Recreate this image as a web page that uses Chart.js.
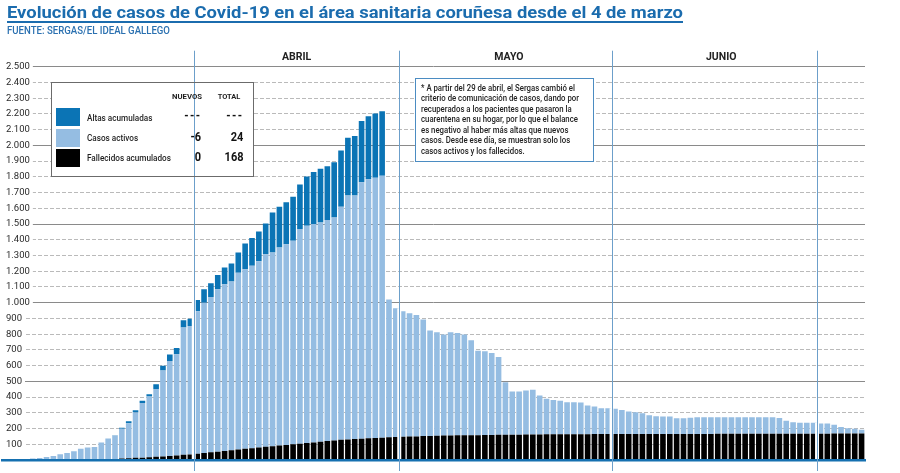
<!DOCTYPE html>
<html lang="es">
<head>
<meta charset="utf-8">
<title>Evolución de casos de Covid-19 en el área sanitaria coruñesa</title>
<script src="https://cdn.jsdelivr.net/npm/chart.js@4.4.1/dist/chart.umd.min.js"></script>
<style>
  html, body { margin: 0; padding: 0; background: #fff; }
  #wrap { position: relative; width: 900px; height: 473px; overflow: hidden; font-family: Roboto, 'Noto Sans', sans-serif; }
  #chart { position: absolute; left: 0; top: 0; }
  .txt { position: absolute; white-space: nowrap; display: inline-block; transform-origin: left center; }
  #title { left: 7px; top: 4px; font-size: 17.3px; line-height: 17px; font-weight: 700; color: #1b6cae;
           text-decoration: underline; text-decoration-thickness: 1.5px; text-underline-offset: 3px; }
  #source { left: 7px; top: 26px; font-size: 10px; line-height: 10px; font-weight: 500; color: #2a70b0; }
  #legend { position: absolute; left: 51px; top: 82px; width: 203px; height: 95px; box-sizing: border-box;
            border: 1.5px solid #6b6b6b; }
  #legend .sw { position: absolute; left: 3.5px; width: 24px; height: 18px; }
  #legend .lab { left: 34.8px; height: 14px; line-height: 14px; font-size: 9.5px; font-weight: 500; color: #1e1e1e; }
  #legend .head { height: 12px; line-height: 12px; font-size: 8px; font-weight: 700; color: #1e1e1e; transform-origin: right center; }
  #legend .val { height: 16px; line-height: 16px; font-size: 12.5px; font-weight: 700; color: #111; transform-origin: right center; }
  #legend .dash { letter-spacing: 1.6px; }
  #note { position: absolute; left: 415px; top: 78px; width: 179px; height: 84px; box-sizing: border-box;
          border: 1.6px solid #4b8cc2; }
  #noteText { position: absolute; left: 4.5px; top: 3.5px; font-size: 8.6px; line-height: 10.6px; font-weight: 500;
              color: #222; white-space: nowrap; display: inline-block; transform-origin: left top; }
</style>
</head>
<body>
<div id="wrap">
  <canvas id="chart" width="900" height="473"></canvas>
  <div id="title" class="txt">Evolución de casos de Covid-19 en el área sanitaria coruñesa desde el 4 de marzo</div>
  <div id="source" class="txt">FUENTE: SERGAS/EL IDEAL GALLEGO</div>
  <div id="legend"></div>
  <div id="note"><div id="noteText"></div></div>
</div>
<script>
(function() {
  'use strict';

  // ── Datos ──
  var monthNames = ['mar', 'abr', 'may', 'jun', 'jul'];
  var monthFirst = [4, 1, 1, 1, 1];
  var monthLast = [31, 30, 31, 30, 7];
  var monthHeads = ['', 'ABRIL', 'MAYO', 'JUNIO', ''];
  var monthHeadDay = [0, 16, 17, 17, 0];

  var fallecidos = [
    0,0,0,0,0,0,0,0,0,0,1,1,2,3,4,5,7,9,11,14,15,17,20,23,26,29,33,35,
    40,44,49,53,57,62,66,71,75,80,84,88,92,96,100,103,108,112,116,120,124,128,131,133,135,138,140,142,144,146,
    148,149,150,152,153,154,155,156,157,157,158,158,159,159,160,160,161,161,162,162,162,163,163,163,164,164,164,164,165,165,165,
    165,165,165,165,166,166,166,166,166,166,166,166,166,166,166,167,167,167,167,167,167,167,167,167,167,167,167,167,167,167,
    167,167,168,168,168,168,168
  ];
  var activos = [
    1,2,4,6,9,13,19,26,36,45,54,71,77,80,107,131,149,190,222,288,348,386,432,546,604,643,809,816,
    906,956,987,1032,1060,1072,1125,1141,1159,1183,1224,1231,1259,1276,1293,1365,1381,1388,1394,1406,1418,1482,1550,1548,1631,1647,1654,1665,877,818,
    798,784,771,741,670,658,642,656,651,640,603,537,532,521,495,335,275,275,280,284,248,226,219,213,203,203,201,182,175,164,164,
    160,153,143,139,131,118,112,110,110,99,99,102,106,106,106,105,105,105,105,105,105,105,105,105,100,83,73,69,69,69,
    65,65,56,42,34,30,24
  ];
  // desde el 29 de abril ya no se publican las altas
  var altas = [
    0,0,0,0,0,0,0,0,0,0,0,0,0,0,0,0,2,6,14,14,14,15,30,30,40,40,47,47,
    71,85,87,91,106,115,128,164,177,190,196,255,259,266,281,283,313,330,341,342,351,358,368,378,389,400,408,410
  ];

  var seriesNames = ['Altas acumuladas', 'Casos activos', 'Fallecidos acumulados'];
  var seriesColors = ['#0b74b5', '#95bde2', '#000000'];
  var legendNew = ['---', '-6', '0'];
  var legendTotal = ['---', '24', '168'];
  var yMax = 2500, yStep = 100, yMajor = 500;

  var noteLines = [
    '* A partir del 29 de abril, el Sergas cambió el',
    'criterio de comunicación de casos, dando por',
    'recuperados a los pacientes que pasaron la',
    'cuarentena en su hogar, por lo que el balance',
    'es negativo al haber más altas que nuevos',
    'casos. Desde ese día, se muestran solo los',
    'casos activos y los fallecidos.'
  ];

  // ── Categorías (un día por barra) ──
  var days = [], monthStart = [], headAt = {};
  monthNames.forEach(function(m, k) {
    monthStart.push(days.length);
    for (var d = monthFirst[k]; d <= monthLast[k]; d++) {
      if (d === monthHeadDay[k]) headAt[days.length] = monthHeads[k];
      days.push(d + ' ' + m);
    }
  });

  function $(id) { return document.getElementById(id); }
  function fmt(v) { return String(v).replace(/\B(?=(\d{3})+(?!\d))/g, '.'); }
  function fit(el, w) {
    el.style.transform = 'none';
    var cur = el.getBoundingClientRect().width;
    if (cur > 0) el.style.transform = 'scaleX(' + (w / cur) + ')';
  }

  // ── Cajas de texto ──
  fit($('title'), 676);
  fit($('source'), 163);

  var legend = $('legend');
  var swTop = [24.5, 45.5, 66];
  var rowMid = [34.5, 54.8, 74.8];
  var valMid = [32.5, 54.2, 73.8];
  var html = '<div class="txt head" style="right:50.8px;top:8.2px">NUEVOS</div>' +
             '<div class="txt head" style="right:12.5px;top:8.2px">TOTAL</div>';
  function valCls(t) { return 'txt val' + (t === '---' ? ' dash' : ''); }
  seriesNames.forEach(function(name, i) {
    html += '<div class="sw" style="top:' + swTop[i] + 'px;background:' + seriesColors[i] + '"></div>' +
            '<div class="txt lab" style="top:' + (rowMid[i] - 7) + 'px">' + name + '</div>' +
            '<div class="' + valCls(legendNew[i]) + '" style="right:51.5px;top:' + (valMid[i] - 8) + 'px">' + legendNew[i] + '</div>' +
            '<div class="' + valCls(legendTotal[i]) + '" style="right:9.8px;top:' + (valMid[i] - 8) + 'px">' + legendTotal[i] + '</div>';
  });
  legend.innerHTML = html;
  var heads = legend.querySelectorAll('.head');
  fit(heads[0], 30); fit(heads[1], 22.7);
  legend.querySelectorAll('.lab').forEach(function(el) { el.style.transform = 'scaleX(0.86)'; });
  legend.querySelectorAll('.val').forEach(function(el) { el.style.transform = 'scaleX(0.88)'; });

  $('noteText').innerHTML = noteLines.join('<br>');
  fit($('noteText'), 158);

  // ── Plugins ──
  var boxBack = {
    id: 'boxBack',
    beforeDatasetsDraw: function(chart) {
      var ctx = chart.ctx, base = chart.canvas.getBoundingClientRect();
      ctx.save();
      ctx.fillStyle = '#fff';
      ['legend', 'note'].forEach(function(id) {
        var r = $(id).getBoundingClientRect();
        ctx.fillRect(r.left - base.left, r.top - base.top, r.width, r.height);
      });
      ctx.restore();
    }
  };

  function boundaryPx(chart, b) {
    var x = chart.scales.x;
    return (x.getPixelForValue(b - 1) + x.getPixelForValue(b)) / 2;
  }

  var monthLines = {
    id: 'monthLines',
    afterDatasetsDraw: function(chart) {
      var ctx = chart.ctx, area = chart.chartArea;
      ctx.save();
      ctx.fillStyle = '#fff';
      monthStart.slice(1).forEach(function(b) {
        var px = boundaryPx(chart, b), top = area.bottom;
        chart.data.datasets.forEach(function(ds, k) {
          var meta = chart.getDatasetMeta(k);
          [b - 1, b].forEach(function(i) {
            if (meta.data[i] && ds.data[i] != null) top = Math.min(top, meta.data[i].y);
          });
        });
        ctx.fillRect(px - 2, top, 4, area.bottom - top);
      });
      ctx.restore();
    },
    afterDraw: function(chart) {
      var ctx = chart.ctx;
      var top = chart.scales.x2.top + 2, bottom = chart.scales.x.bottom - 1;
      ctx.save();
      ctx.strokeStyle = '#6c9fca';
      ctx.lineWidth = 1;
      monthStart.slice(1).forEach(function(b) {
        var px = Math.round(boundaryPx(chart, b)) + 0.5;
        ctx.beginPath();
        ctx.moveTo(px, top);
        ctx.lineTo(px, bottom);
        ctx.stroke();
      });
      ctx.restore();
    }
  };

  // ── Gráfico ──
  new Chart($('chart'), {
    type: 'bar',
    data: {
      labels: days,
      datasets: [
        { label: seriesNames[2], data: fallecidos, backgroundColor: seriesColors[2] },
        { label: seriesNames[1], data: activos, backgroundColor: seriesColors[1] },
        { label: seriesNames[0], data: altas, backgroundColor: seriesColors[0] }
      ]
    },
    options: {
      responsive: false,
      animation: false,
      layout: { padding: { top: 48.7, bottom: 1, left: 2, right: 35 } },
      datasets: { bar: { barPercentage: 0.82, categoryPercentage: 1, borderWidth: 0 } },
      plugins: { legend: { display: false }, tooltip: { enabled: false } },
      scales: {
        x: {
          stacked: true,
          grid: { display: false, drawTicks: true, tickLength: 12 },
          ticks: { display: false },
          border: { display: true, color: '#1570b0', width: 2.5, z: 1 },
          afterFit: function(s) { s.height = 12; }
        },
        x2: {
          type: 'category',
          position: 'top',
          grid: { display: false, drawTicks: false },
          border: { display: false },
          ticks: {
            autoSkip: false, maxRotation: 0, minRotation: 0, padding: 3, labelOffset: -3.4,
            color: '#222', font: { family: 'Roboto', size: 10.5, weight: 'bold' },
            callback: function(v, i) { return headAt[i] || ''; }
          },
          afterFit: function(s) { s.height = 18; }
        },
        y: {
          stacked: true,
          min: 0, max: yMax,
          position: 'left',
          grid: {
            drawTicks: false, lineWidth: 1,
            color: function(c) { return (c.tick.value % yMajor === 0) ? 'rgba(0,0,0,0)' : '#bababa'; }
          },
          border: { display: false, dash: [4, 2] },
          ticks: {
            stepSize: yStep, mirror: true, padding: 4, color: '#2a2a2a',
            font: { family: 'Roboto', size: 9.5 },
            callback: function(v) { return v === 0 ? '' : fmt(v); },
            showLabelBackdrop: true, backdropColor: '#fff',
            backdropPadding: { top: 0, bottom: 0, left: 4, right: 3 }
          },
          afterFit: function(s) { s.width = 0; }
        },
        y2: {
          min: 0, max: yMax,
          position: 'left',
          grid: {
            drawTicks: false, lineWidth: 1,
            color: function(c) { return c.tick.value === 0 ? 'rgba(0,0,0,0)' : '#8a8a8a'; }
          },
          border: { display: false },
          ticks: { display: false, stepSize: yMajor },
          afterFit: function(s) { s.width = 0; }
        }
      }
    },
    plugins: [boxBack, monthLines]
  });
})();
</script>
</body>
</html>
